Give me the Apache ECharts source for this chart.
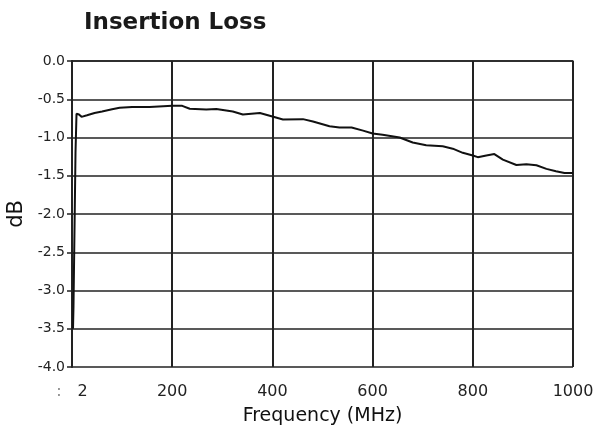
<!DOCTYPE html>
<html><head><meta charset="utf-8">
<script src="https://cdn.jsdelivr.net/npm/echarts@6/dist/echarts.min.js"></script>
<style>html,body{margin:0;padding:0;background:#fff}#c{width:594px;height:431px}</style>
</head><body><div id="c"></div>
<script>
const freqMHz = [2,3,5,7,9,14,19,30,45,60,80,95,120,155,200,220,235,268,288,321,341,375,400,421,461,481,514,534,558,581,600,620,654,680,707,740,760,780,800,810,827,843,860,887,907,927,947,966,983,1000];
const lossDb = [-3.5,-3.2,-2.2,-1.2,-0.69,-0.7,-0.73,-0.71,-0.68,-0.66,-0.63,-0.61,-0.6,-0.6,-0.585,-0.586,-0.624,-0.635,-0.627,-0.66,-0.70,-0.68,-0.726,-0.765,-0.76,-0.79,-0.854,-0.87,-0.87,-0.91,-0.947,-0.965,-1.0,-1.066,-1.10,-1.115,-1.146,-1.2,-1.235,-1.257,-1.235,-1.217,-1.29,-1.36,-1.35,-1.363,-1.41,-1.44,-1.465,-1.465];
const xTicks = {min:0, max:1000, step:200};
const yTicks = {min:-4, max:0, step:0.5};
const titleText = 'Insertion Loss';
const xName = 'Frequency (MHz)';
const yName = 'dB';

const chart = echarts.init(document.getElementById('c'));
const ff = '"DejaVu Sans", "Liberation Sans", Arial, sans-serif';
chart.setOption({
  animation:false,
  title:{text:titleText,left:79,top:7,textStyle:{fontFamily:ff,fontSize:23,fontWeight:'bold',color:'#1a1a1a'}},
  grid:{left:72,right:21,top:61,bottom:64,containLabel:false,outerBoundsMode:'none'},
  xAxis:{type:'value',min:xTicks.min,max:xTicks.max,interval:xTicks.step,
    name:xName,nameLocation:'middle',nameGap:40,
    nameTextStyle:{fontFamily:ff,fontSize:19,color:'#111'},
    axisLine:{show:true,lineStyle:{color:'#222',width:1.5}},
    axisTick:{show:false},
    splitLine:{show:true,lineStyle:{color:'#222',width:2}},
    axisLabel:{fontFamily:ff,fontSize:16,color:'#222',margin:17,hideOverlap:false,
      formatter:v=> v===0 ? '{a|:}{b|2}' : String(v),
      rich:{a:{color:'#888',fontSize:16,fontFamily:ff,padding:[0,16,0,0]},b:{fontSize:16,fontFamily:ff,color:'#222'}}}},
  yAxis:{type:'value',min:yTicks.min,max:yTicks.max,interval:yTicks.step,
    name:yName,nameLocation:'middle',nameGap:45,nameRotate:90,
    nameTextStyle:{fontFamily:ff,fontSize:21,color:'#111'},
    axisLine:{show:true,lineStyle:{color:'#222',width:2}},
    axisTick:{show:true,length:5,lineStyle:{color:'#222',width:1.5}},
    splitLine:{show:true,lineStyle:{color:'#222',width:1.5}},
    axisLabel:{fontFamily:ff,fontSize:14,color:'#222',margin:7,
      formatter:v=>v.toFixed(1)}},
  series:[{type:'line',data:freqMHz.map((f,i)=>[f,lossDb[i]]),showSymbol:false,
    lineStyle:{color:'#111',width:2},smooth:false}]
});
</script></body></html>
